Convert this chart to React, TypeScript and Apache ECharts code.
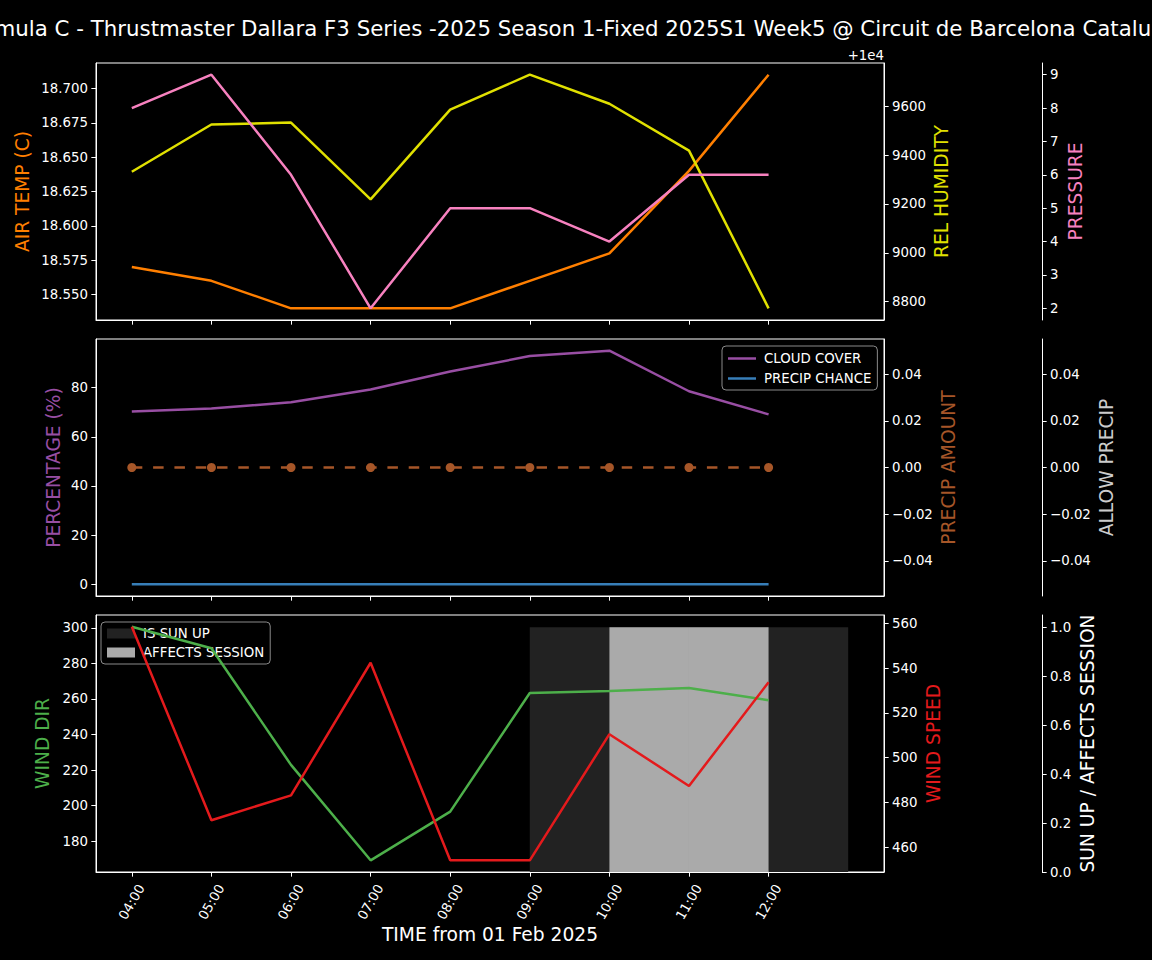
import React, { useEffect, useRef } from "react";
import * as echarts from "echarts";

// ---------- data ----------
const hours = [4, 5, 6, 7, 8, 9, 10, 11, 12];
const airTemp = [18.57, 18.56, 18.54, 18.54, 18.54, 18.56, 18.58, 18.64, 18.71];
const relHumidity = [19332, 19525, 19533, 19219, 19586, 19729, 19610, 19418, 18773];
const pressure = [8, 9, 6, 2, 5, 5, 4, 6, 6];
const cloudCover = [70.3, 71.5, 74.0, 79.2, 86.5, 92.8, 95.0, 78.5, 69.1];
const precipChance = [0, 0, 0, 0, 0, 0, 0, 0, 0];
const precipAmount = [0, 0, 0, 0, 0, 0, 0, 0, 0];
const windDir = [300.7, 288.6, 222.9, 169.2, 196.6, 263.4, 264.5, 266.2, 259.3];
const windSpeed = [558.5, 472.1, 483.2, 542.4, 454.2, 454.2, 510.5, 487.4, 533.7];
const sunUp = [0, 0, 0, 0, 0, 1, 1, 1, 1];
const affectsSession = [0, 0, 0, 0, 0, 0, 1, 1, 0];

const airTempTicks = [18.55, 18.575, 18.6, 18.625, 18.65, 18.675, 18.7];
const humidityTicks = [18800, 19000, 19200, 19400, 19600];
const humidityOffset = 10000;
const pressureTicks = [2, 3, 4, 5, 6, 7, 8, 9];
const percentTicks = [0, 20, 40, 60, 80];
const precipTicks = [-0.04, -0.02, 0, 0.02, 0.04];
const windDirTicks = [180, 200, 220, 240, 260, 280, 300];
const windSpeedTicks = [460, 480, 500, 520, 540, 560];
const sunTicks = [0, 0.2, 0.4, 0.6, 0.8, 1.0];

const TITLE =
  "Formula C - Thrustmaster Dallara F3 Series -2025 Season 1-Fixed 2025S1 Week5 @ Circuit de Barcelona Catalunya";

// ---------- styling ----------
const FONT = "DejaVu Sans";
const TICK_FS = 13.33;
const LABEL_FS = 18.67;
const TITLE_FS = 21.33;
const LW = 2.5;
const C_ORANGE = "#ff7f00";
const C_YELLOW = "#e0e000";
const C_PINK = "#f781bf";
const C_PURPLE = "#984ea3";
const C_BLUE = "#377eb8";
const C_BROWN = "#a65628";
const C_GREEN = "#4daf4a";
const C_RED = "#e41a1c";
const C_ALLOW = "#cccccc";
const C_SUN = "#222222";
const C_AFFECT = "#aaaaaa";

function padded(values: number[], frac = 0.05) {
  const lo = Math.min(...values);
  const hi = Math.max(...values);
  const m = (hi - lo) * frac;
  return { min: lo - m, max: hi + m };
}

const GRID_LEFT = 96;
const GRID_W = 788;
const GRID_H = 257;
const GRID_TOPS = [63, 339, 615];

function yAxis(
  gridIndex: number,
  position: "left" | "right",
  offset: number,
  name: string,
  nameColor: string,
  nameGap: number,
  range: { min: number; max: number },
  ticks: number[],
  fmt: (v: number) => string
) {
  return {
    type: "value",
    gridIndex,
    position,
    offset,
    min: range.min,
    max: range.max,
    name,
    nameLocation: "middle",
    nameRotate: 90,
    nameGap,
    nameMoveOverlap: false,
    nameTextStyle: { color: nameColor, fontSize: LABEL_FS, fontFamily: FONT },
    axisLine: { show: true, onZero: false, lineStyle: { color: "#ffffff", width: 1 } },
    axisTick: { show: true, length: 4.67, customValues: ticks, lineStyle: { color: "#ffffff" } },
    axisLabel: {
      show: true,
      margin: 8,
      customValues: ticks,
      color: "#ffffff",
      fontSize: TICK_FS,
      fontFamily: FONT,
      formatter: fmt,
    },
    splitLine: { show: false },
  };
}

export default function App() {
  const ref = useRef<HTMLDivElement>(null);

  useEffect(() => {
    if (!ref.current) return;
    const chart = echarts.init(ref.current, null, { renderer: "svg" });

    const barStarts = hours;
    const xRange = padded([hours[0], hours[hours.length - 1] + 1]);

    const xAxes = GRID_TOPS.map((_, i) => ({
      type: "value",
      gridIndex: i,
      min: xRange.min,
      max: xRange.max,
      name: i === 2 ? "TIME from 01 Feb 2025" : "",
      nameLocation: "middle",
      nameGap: 52,
      nameTextStyle: { color: "#ffffff", fontSize: LABEL_FS, fontFamily: FONT },
      axisLine: { show: true, onZero: false, lineStyle: { color: "#ffffff" } },
      axisTick: { show: true, length: 4.67, customValues: hours, lineStyle: { color: "#ffffff" } },
      axisLabel: {
        show: i === 2,
        customValues: hours,
        rotate: 60,
        align: "center",
        verticalAlign: "middle",
        margin: 30,
        color: "#ffffff",
        fontSize: TICK_FS,
        fontFamily: FONT,
        formatter: (v: number) => String(Math.round(v)).padStart(2, "0") + ":00",
      },
      splitLine: { show: false },
    }));

    const fmtFixed = (d: number) => (v: number) => {
      const s = Math.abs(v).toFixed(d);
      return v < -1e-12 ? "\u2212" + s : s;
    };

    const yAxes = [
      yAxis(0, "left", 0, "AIR TEMP (C)", C_ORANGE, 64, padded(airTemp), airTempTicks, fmtFixed(3)),
      yAxis(0, "right", 0, "REL HUMIDITY", C_YELLOW, 48, padded(relHumidity), humidityTicks, (v) =>
        String(Math.round(v - humidityOffset))
      ),
      yAxis(0, "right", 158, "PRESSURE", C_PINK, 24, padded(pressure), pressureTicks, (v) => String(Math.round(v))),
      yAxis(1, "left", 0, "PERCENTAGE (%)", C_PURPLE, 33, padded([...cloudCover, ...precipChance]), percentTicks, (v) =>
        String(Math.round(v))
      ),
      yAxis(1, "right", 0, "PRECIP AMOUNT", C_BROWN, 55, { min: -0.055, max: 0.055 }, precipTicks, fmtFixed(2)),
      yAxis(1, "right", 158, "ALLOW PRECIP", C_ALLOW, 55, { min: -0.055, max: 0.055 }, precipTicks, fmtFixed(2)),
      yAxis(2, "left", 0, "WIND DIR", C_GREEN, 44, padded(windDir), windDirTicks, (v) => String(Math.round(v))),
      yAxis(2, "right", 0, "WIND SPEED", C_RED, 40, padded(windSpeed), windSpeedTicks, (v) => String(Math.round(v))),
      yAxis(2, "right", 158, "SUN UP / AFFECTS SESSION", "#ffffff", 36, { min: 0, max: 1.05 }, sunTicks, fmtFixed(1)),
    ];

    const line = (name: string, data: number[], color: string, xIdx: number, yIdx: number, extra: any = {}) => ({
      name,
      type: "line",
      xAxisIndex: xIdx,
      yAxisIndex: yIdx,
      data: hours.map((h, i) => [h, data[i]]),
      showSymbol: false,
      symbol: "none",
      lineStyle: { color, width: LW },
      itemStyle: { color },
      z: 3,
      silent: true,
      ...extra,
    });

    const barSeries = (name: string, flags: number[], color: string, z: number) => ({
      name,
      type: "custom",
      xAxisIndex: 2,
      yAxisIndex: 8,
      z,
      silent: true,
      itemStyle: { color },
      encode: { x: [0, 1], y: 2 },
      data: barStarts.filter((_, i) => flags[i] > 0).map((h) => [h, h + 1, 1]),
      renderItem: (params: any, api: any) => {
        const p0 = api.coord([api.value(0), 0]);
        const p1 = api.coord([api.value(1), api.value(2)]);
        return {
          type: "rect",
          shape: { x: p0[0], y: p1[1], width: p1[0] - p0[0], height: p0[1] - p1[1] },
          style: { fill: color },
        };
      },
    });

    const legendBase = {
      orient: "vertical",
      backgroundColor: "rgba(0,0,0,0.8)",
      borderColor: "#8a8a8a",
      borderWidth: 1,
      borderRadius: 4,
      padding: [4, 6, 4, 6],
      itemGap: 4,
      itemWidth: 28,
      selectedMode: false,
      z: 1,
      textStyle: { color: "#ffffff", fontSize: TICK_FS, fontFamily: FONT, padding: [0, 0, 0, 3] },
    };

    chart.setOption({
      animation: false,
      backgroundColor: "#000000",
      textStyle: { fontFamily: FONT },
      title: {
        text: TITLE,
        left: "center",
        top: 18,
        padding: 0,
        textStyle: { color: "#ffffff", fontSize: TITLE_FS, fontFamily: FONT, fontWeight: "normal" },
      },
      graphic: [
        {
          type: "text",
          x: GRID_LEFT + GRID_W,
          y: 55,
          style: {
            text: "+1e4",
            align: "right",
            verticalAlign: "middle",
            fill: "#ffffff",
            font: `${TICK_FS}px ${FONT}`,
          },
        },
      ],
      legend: [
        {
          ...legendBase,
          left: 722,
          top: 346,
          icon: "rect",
          itemHeight: 2.5,
          padding: [6, 6, 5, 6],
          itemGap: 7,
          data: ["CLOUD COVER", "PRECIP CHANCE"],
        },
        {
          ...legendBase,
          left: 101,
          top: 622,
          icon: "rect",
          itemHeight: 10,
          padding: [5, 6, 5, 6],
          itemGap: 6,
          data: ["IS SUN UP", "AFFECTS SESSION"],
        },
      ],
      grid: GRID_TOPS.map((top) => ({
        left: GRID_LEFT,
        top,
        width: GRID_W,
        height: GRID_H,
        show: true,
        backgroundColor: "#000000",
        borderColor: "#ffffff",
        borderWidth: 1,
        containLabel: false,
        outerBoundsMode: "none",
      })),
      xAxis: xAxes,
      yAxis: yAxes,
      series: [
        line("AIR TEMP", airTemp, C_ORANGE, 0, 0),
        line("REL HUMIDITY", relHumidity, C_YELLOW, 0, 1),
        line("PRESSURE", pressure, C_PINK, 0, 2),
        line("CLOUD COVER", cloudCover, C_PURPLE, 1, 3),
        line("PRECIP CHANCE", precipChance, C_BLUE, 1, 3),
        line("PRECIP AMOUNT", precipAmount, C_BROWN, 1, 4, {
          showSymbol: true,
          symbol: "circle",
          symbolSize: 9,
          lineStyle: { color: C_BROWN, width: 2.5, type: [10.5, 10.8] },
        }),
        barSeries("IS SUN UP", sunUp, C_SUN, 1),
        barSeries("AFFECTS SESSION", affectsSession, C_AFFECT, 1),
        line("WIND DIR", windDir, C_GREEN, 2, 6),
        line("WIND SPEED", windSpeed, C_RED, 2, 7),
      ],
    });

    return () => chart.dispose();
  }, []);

  return (
    <div
      ref={ref}
      style={{ position: "fixed", left: 0, top: 0, width: 1152, height: 960, background: "#000" }}
    />
  );
}
